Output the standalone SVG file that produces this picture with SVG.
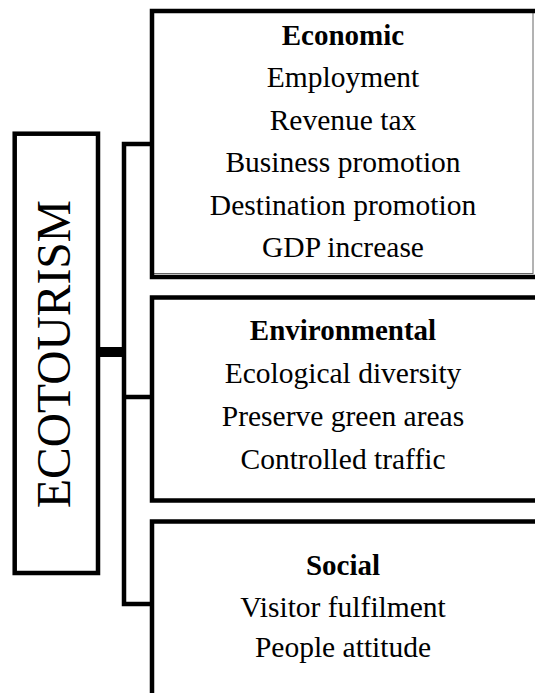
<svg xmlns="http://www.w3.org/2000/svg" width="535" height="693" viewBox="0 0 535 693">
  <style>
    .thick { stroke: #000; stroke-width: 4.5; fill: none; }
    .thin { stroke: #666; stroke-width: 1; fill: none; }
    .lbl { font-family: "Liberation Serif", "Times New Roman", serif; font-size: 29.5px; fill: #000; text-anchor: middle; }
    .head { font-weight: bold; font-size: 29px; }
  </style>
  <rect width="535" height="693" fill="#fff"/>

  <!-- connectors: bracket joining the main box to the three category boxes -->
  <g id="connectors">
    <line x1="98" y1="352" x2="124" y2="352" stroke="#000" stroke-width="10"/>
    <path class="thick" d="M152 144 H124 V604 H152"/>
    <line class="thick" x1="124" y1="397" x2="152" y2="397"/>
  </g>

  <!-- main concept -->
  <g id="ecotourism">
    <rect class="thick" x="14.7" y="133.7" width="83.3" height="439.3"/>
    <text transform="translate(70,354) rotate(-90)" text-anchor="middle" font-family="Liberation Serif, Times New Roman, serif" font-size="47.5">ECOTOURISM</text>
  </g>

  <!-- economic impacts -->
  <g id="economic">
    <rect class="thin" x="153" y="12.5" width="380" height="261"/>
    <path class="thick" d="M535 11 H152 V277 H535"/>
    <text class="lbl head" x="343" y="45">Economic</text>
    <text class="lbl" x="343" y="87">Employment</text>
    <text class="lbl" x="343" y="130">Revenue tax</text>
    <text class="lbl" x="343" y="172">Business promotion</text>
    <text class="lbl" x="343" y="215">Destination promotion</text>
    <text class="lbl" x="343" y="257">GDP increase</text>
  </g>

  <!-- environmental impacts -->
  <g id="environmental">
    <path class="thick" d="M535 297.5 H152 V500.5 H535"/>
    <text class="lbl head" x="343" y="340">Environmental</text>
    <text class="lbl" x="343" y="383">Ecological diversity</text>
    <text class="lbl" x="343" y="426">Preserve green areas</text>
    <text class="lbl" x="343" y="469">Controlled traffic</text>
  </g>

  <!-- social impacts -->
  <g id="social">
    <path class="thick" d="M535 521.5 H152 V693"/>
    <text class="lbl head" x="343" y="575">Social</text>
    <text class="lbl" x="343" y="617">Visitor fulfilment</text>
    <text class="lbl" x="343" y="657">People attitude</text>
  </g>
</svg>
